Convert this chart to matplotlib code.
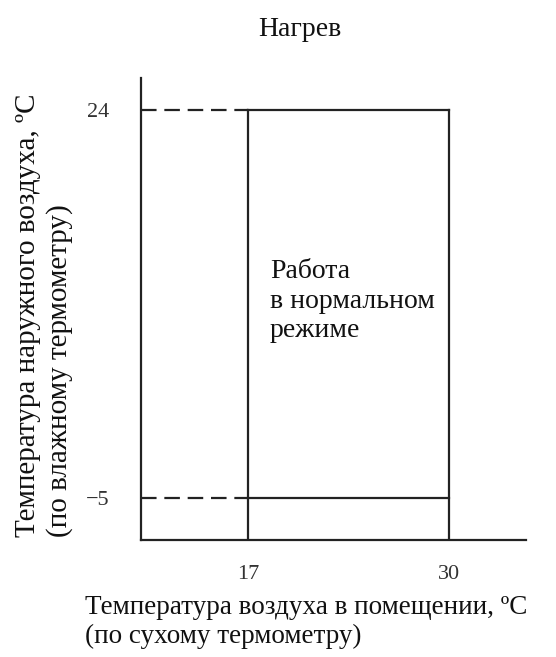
import matplotlib
matplotlib.use("Agg")
import matplotlib.pyplot as plt

plt.rcParams['font.family'] = ['Liberation Serif', 'DejaVu Serif']

# Data
title = "Нагрев"
x_label = "Температура воздуха в помещении, ºС\n(по сухому термометру)"
y_label = "Температура наружного воздуха, ºС\n(по влажному термометру)"
zone_label = "Работа\nв нормальном\nрежиме"
indoor_limits = [17, 30]      # dry bulb, °C
outdoor_limits = [-5, 24]     # wet bulb, °C
x_range = [10.06, 34.96]
y_range = [-8.16, 26.39]

W, H = 556, 657
fig = plt.figure(figsize=(W / 100, H / 100), dpi=100)
ax = fig.add_axes([141 / W, 1 - 540 / H, (526 - 141) / W, (540 - 78) / H])
ax.set_xlim(*x_range)
ax.set_ylim(*y_range)

col = '#222222'
lw = 1.6
for s in ['top', 'right']:
    ax.spines[s].set_visible(False)
for s in ['left', 'bottom']:
    ax.spines[s].set_color(col)
    ax.spines[s].set_linewidth(lw)

x0, x1 = indoor_limits
y0, y1 = outdoor_limits
# dashed guides from y-axis
for yv in outdoor_limits:
    ax.plot([x_range[0], x0], [yv, yv], color=col, lw=lw, ls=(0, (7, 3.5)),
            solid_capstyle='butt', dash_capstyle='butt')
# solid horizontals
for yv in outdoor_limits:
    ax.plot([x0, x1], [yv, yv], color=col, lw=lw, solid_capstyle='projecting')
# verticals down to x-axis
for xv in indoor_limits:
    ax.plot([xv, xv], [y_range[0], y1], color=col, lw=lw, solid_capstyle='projecting')

ax.set_xticks(indoor_limits)
ax.set_xticklabels([str(v) for v in indoor_limits])
ax.set_yticks(outdoor_limits)
ax.set_yticklabels(['\u22125' if v < 0 else str(v) for v in outdoor_limits])
ax.tick_params(length=0, labelsize=16, colors='#333333')
ax.tick_params(axis='x', pad=18)
ax.tick_params(axis='y', pad=23)

ax.text(18.4, 12.85, zone_label, fontsize=20, color='#111111', va='top', ha='left',
        linespacing=1.24)

fig.text(300 / W, 1 - 29 / H, title, fontsize=20, ha='center', va='center', color='#111111')
fig.text(85 / W, 1 - 622 / H, x_label, fontsize=19.5, ha='left', va='center', color='#111111',
         linespacing=1.25)
fig.text(44 / W, 1 - 537 / H, y_label, fontsize=21, ha='left', va='center', rotation=90,
         rotation_mode='anchor', multialignment='left', color='#111111', linespacing=1.22)

fig.savefig('out.png', dpi=100)
